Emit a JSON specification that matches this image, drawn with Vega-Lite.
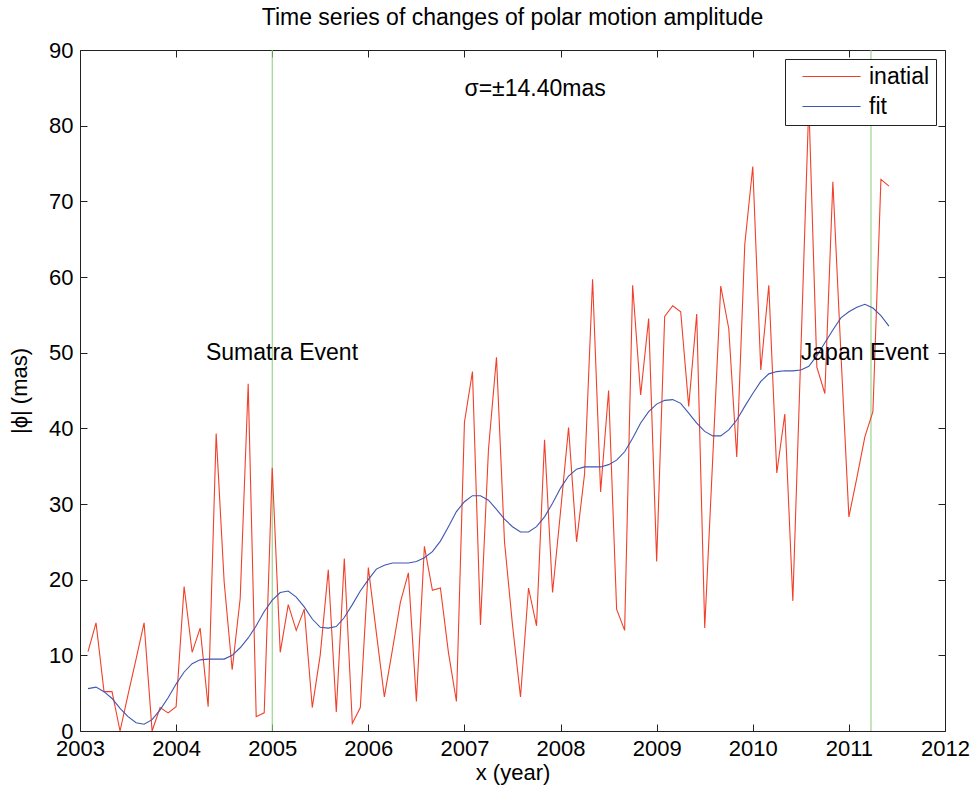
{
  "$schema": "https://vega.github.io/schema/vega-lite/v6.json",
  "width": 865,
  "height": 681,
  "autosize": "none",
  "padding": {"left": 80, "top": 50, "right": 28, "bottom": 58},
  "background": "white",
  "title": {"text": "Time series of changes of polar motion amplitude", "fontSize": 23, "fontWeight": "normal", "font": "Liberation Sans", "color": "black", "anchor": "middle", "offset": 9},
  "config": {
    "view": {"stroke": null},
    "axis": {"labelFont": "Liberation Sans", "titleFont": "Liberation Sans", "labelFontSize": 22, "titleFontSize": 22, "titleFontWeight": "normal", "labelColor": "black", "titleColor": "black", "grid": false, "domainColor": "#222", "tickColor": "#222", "tickSize": -7, "domainWidth": 1, "tickWidth": 1, "labelFlush": false}
  },
  "datasets": {
    "series": [
      {"t": 2003.0833, "inatial": 10.5, "fit": 5.6},
      {"t": 2003.1667, "inatial": 14.3, "fit": 5.8},
      {"t": 2003.25, "inatial": 5.2, "fit": 5.2},
      {"t": 2003.3333, "inatial": 5.2, "fit": 4.3},
      {"t": 2003.4167, "inatial": 0.0, "fit": 3.0},
      {"t": 2003.5, "inatial": 4.8, "fit": 1.9},
      {"t": 2003.5833, "inatial": 9.5, "fit": 1.1},
      {"t": 2003.6667, "inatial": 14.3, "fit": 0.9},
      {"t": 2003.75, "inatial": 0.0, "fit": 1.5},
      {"t": 2003.8333, "inatial": 3.1, "fit": 2.8},
      {"t": 2003.9167, "inatial": 2.4, "fit": 4.4},
      {"t": 2004.0, "inatial": 3.2, "fit": 6.2},
      {"t": 2004.0833, "inatial": 19.1, "fit": 7.8},
      {"t": 2004.1667, "inatial": 10.4, "fit": 8.9},
      {"t": 2004.25, "inatial": 13.6, "fit": 9.4},
      {"t": 2004.3333, "inatial": 3.2, "fit": 9.5},
      {"t": 2004.4167, "inatial": 39.3, "fit": 9.5},
      {"t": 2004.5, "inatial": 19.7, "fit": 9.5},
      {"t": 2004.5833, "inatial": 8.1, "fit": 10.0},
      {"t": 2004.6667, "inatial": 17.5, "fit": 11.0},
      {"t": 2004.75, "inatial": 45.9, "fit": 12.3},
      {"t": 2004.8333, "inatial": 1.9, "fit": 13.9},
      {"t": 2004.9167, "inatial": 2.4, "fit": 15.8},
      {"t": 2005.0, "inatial": 34.8, "fit": 17.3},
      {"t": 2005.0833, "inatial": 10.4, "fit": 18.3},
      {"t": 2005.1667, "inatial": 16.7, "fit": 18.5},
      {"t": 2005.25, "inatial": 13.3, "fit": 17.7},
      {"t": 2005.3333, "inatial": 16.1, "fit": 16.4},
      {"t": 2005.4167, "inatial": 3.1, "fit": 14.8},
      {"t": 2005.5, "inatial": 10.1, "fit": 13.7},
      {"t": 2005.5833, "inatial": 21.3, "fit": 13.6},
      {"t": 2005.6667, "inatial": 2.5, "fit": 13.8},
      {"t": 2005.75, "inatial": 22.8, "fit": 15.0},
      {"t": 2005.8333, "inatial": 1.0, "fit": 16.7},
      {"t": 2005.9167, "inatial": 3.1, "fit": 18.5},
      {"t": 2006.0, "inatial": 21.6, "fit": 20.0},
      {"t": 2006.0833, "inatial": 13.0, "fit": 21.4},
      {"t": 2006.1667, "inatial": 4.5, "fit": 21.9},
      {"t": 2006.25, "inatial": 10.7, "fit": 22.2},
      {"t": 2006.3333, "inatial": 17.0, "fit": 22.2},
      {"t": 2006.4167, "inatial": 20.9, "fit": 22.2},
      {"t": 2006.5, "inatial": 3.9, "fit": 22.4},
      {"t": 2006.5833, "inatial": 24.4, "fit": 22.9},
      {"t": 2006.6667, "inatial": 18.6, "fit": 23.7},
      {"t": 2006.75, "inatial": 18.9, "fit": 25.1},
      {"t": 2006.8333, "inatial": 10.4, "fit": 27.0},
      {"t": 2006.9167, "inatial": 3.9, "fit": 29.0},
      {"t": 2007.0, "inatial": 40.8, "fit": 30.3},
      {"t": 2007.0833, "inatial": 47.5, "fit": 31.1},
      {"t": 2007.1667, "inatial": 14.0, "fit": 31.1},
      {"t": 2007.25, "inatial": 37.2, "fit": 30.5},
      {"t": 2007.3333, "inatial": 49.4, "fit": 29.3},
      {"t": 2007.4167, "inatial": 25.0, "fit": 28.0},
      {"t": 2007.5, "inatial": 14.0, "fit": 27.0},
      {"t": 2007.5833, "inatial": 4.5, "fit": 26.3},
      {"t": 2007.6667, "inatial": 18.9, "fit": 26.3},
      {"t": 2007.75, "inatial": 13.9, "fit": 27.0},
      {"t": 2007.8333, "inatial": 38.5, "fit": 28.3},
      {"t": 2007.9167, "inatial": 18.3, "fit": 30.1},
      {"t": 2008.0, "inatial": 29.0, "fit": 32.1},
      {"t": 2008.0833, "inatial": 40.1, "fit": 33.7},
      {"t": 2008.1667, "inatial": 25.0, "fit": 34.6},
      {"t": 2008.25, "inatial": 34.0, "fit": 34.9},
      {"t": 2008.3333, "inatial": 59.7, "fit": 34.9},
      {"t": 2008.4167, "inatial": 31.6, "fit": 34.9},
      {"t": 2008.5, "inatial": 45.0, "fit": 35.2},
      {"t": 2008.5833, "inatial": 16.1, "fit": 35.8},
      {"t": 2008.6667, "inatial": 13.3, "fit": 36.9},
      {"t": 2008.75, "inatial": 58.9, "fit": 38.7},
      {"t": 2008.8333, "inatial": 44.4, "fit": 40.7},
      {"t": 2008.9167, "inatial": 54.5, "fit": 42.2},
      {"t": 2009.0, "inatial": 22.4, "fit": 43.2},
      {"t": 2009.0833, "inatial": 54.8, "fit": 43.7},
      {"t": 2009.1667, "inatial": 56.2, "fit": 43.8},
      {"t": 2009.25, "inatial": 55.4, "fit": 43.3},
      {"t": 2009.3333, "inatial": 42.9, "fit": 42.0},
      {"t": 2009.4167, "inatial": 55.1, "fit": 40.7},
      {"t": 2009.5, "inatial": 13.6, "fit": 39.6},
      {"t": 2009.5833, "inatial": 36.0, "fit": 39.0},
      {"t": 2009.6667, "inatial": 58.8, "fit": 39.0},
      {"t": 2009.75, "inatial": 53.2, "fit": 39.8},
      {"t": 2009.8333, "inatial": 36.2, "fit": 41.1},
      {"t": 2009.9167, "inatial": 64.3, "fit": 42.9},
      {"t": 2010.0, "inatial": 74.6, "fit": 44.6},
      {"t": 2010.0833, "inatial": 47.7, "fit": 46.2},
      {"t": 2010.1667, "inatial": 58.9, "fit": 47.2},
      {"t": 2010.25, "inatial": 34.1, "fit": 47.5},
      {"t": 2010.3333, "inatial": 41.9, "fit": 47.6},
      {"t": 2010.4167, "inatial": 17.2, "fit": 47.6},
      {"t": 2010.5, "inatial": 50.0, "fit": 47.7},
      {"t": 2010.5833, "inatial": 83.0, "fit": 48.2},
      {"t": 2010.6667, "inatial": 48.1, "fit": 49.6},
      {"t": 2010.75, "inatial": 44.6, "fit": 51.3},
      {"t": 2010.8333, "inatial": 72.6, "fit": 53.0},
      {"t": 2010.9167, "inatial": 50.0, "fit": 54.6},
      {"t": 2011.0, "inatial": 28.3, "fit": 55.4},
      {"t": 2011.0833, "inatial": 33.5, "fit": 56.0},
      {"t": 2011.1667, "inatial": 38.9, "fit": 56.4},
      {"t": 2011.25, "inatial": 42.2, "fit": 55.9},
      {"t": 2011.3333, "inatial": 72.9, "fit": 54.9},
      {"t": 2011.4167, "inatial": 72.0, "fit": 53.5}
    ],
    "events": [{"year": 2005.0}, {"year": 2011.23}],
    "notes": [
      {"t": 2004.31, "v": 50, "label": "Sumatra Event"},
      {"t": 2010.5, "v": 50, "label": "Japan Event"},
      {"t": 2007.0, "v": 84.8, "label": "σ=±14.40mas"}
    ]
  },
  "resolve": {"axis": {"x": "independent", "y": "independent"}},
  "layer": [
    {
      "data": {"name": "events"},
      "mark": {"type": "rule", "color": "#8acb78", "strokeWidth": 1},
      "encoding": {
        "x": {"field": "year", "type": "quantitative", "scale": {"domain": [2003, 2012], "nice": false, "zero": false},
              "axis": {"orient": "top", "labels": false, "title": null, "values": [2003, 2004, 2005, 2006, 2007, 2008, 2009, 2010, 2011, 2012]}},
        "y": {"datum": 0, "type": "quantitative", "scale": {"domain": [0, 90], "nice": false},
              "axis": {"orient": "right", "labels": false, "title": null, "values": [0, 10, 20, 30, 40, 50, 60, 70, 80, 90]}},
        "y2": {"datum": 90}
      }
    },
    {
      "data": {"name": "series"},
      "transform": [{"fold": ["inatial", "fit"], "as": ["s", "v"]}],
      "mark": {"type": "line", "strokeWidth": 1.1},
      "encoding": {
        "x": {"field": "t", "type": "quantitative", "scale": {"domain": [2003, 2012], "nice": false, "zero": false},
              "axis": {"orient": "bottom", "title": "x (year)", "format": "d", "values": [2003, 2004, 2005, 2006, 2007, 2008, 2009, 2010, 2011, 2012], "labelPadding": 14, "titlePadding": 3}},
        "y": {"field": "v", "type": "quantitative", "scale": {"domain": [0, 90], "nice": false},
              "axis": {"orient": "left", "title": "|ϕ| (mas)", "values": [0, 10, 20, 30, 40, 50, 60, 70, 80, 90], "labelPadding": 14, "titlePadding": 17}},
        "color": {"field": "s", "type": "nominal", "scale": {"domain": ["inatial", "fit"], "range": ["#f0402a", "#3f56b0"]},
                  "legend": {"orient": "top-right", "offset": 9, "title": null, "symbolType": "M0,0H10", "symbolSize": 135, "symbolStrokeWidth": 1.2, "labelFontSize": 23, "labelFont": "Liberation Sans", "labelColor": "black", "labelOffset": 55, "strokeColor": "#222", "fillColor": "white", "padding": 6, "cornerRadius": 0, "rowPadding": 6, "values": ["inatial", "fit"]}},
        "order": {"field": "t", "type": "quantitative"}
      }
    },
    {
      "data": {"name": "notes"},
      "mark": {"type": "text", "align": "left", "baseline": "middle", "fontSize": 23, "font": "Liberation Sans", "color": "black"},
      "encoding": {
        "x": {"field": "t", "type": "quantitative", "scale": {"domain": [2003, 2012], "nice": false, "zero": false}, "axis": null},
        "y": {"field": "v", "type": "quantitative", "scale": {"domain": [0, 90], "nice": false}, "axis": null},
        "text": {"field": "label"}
      }
    }
  ]
}
